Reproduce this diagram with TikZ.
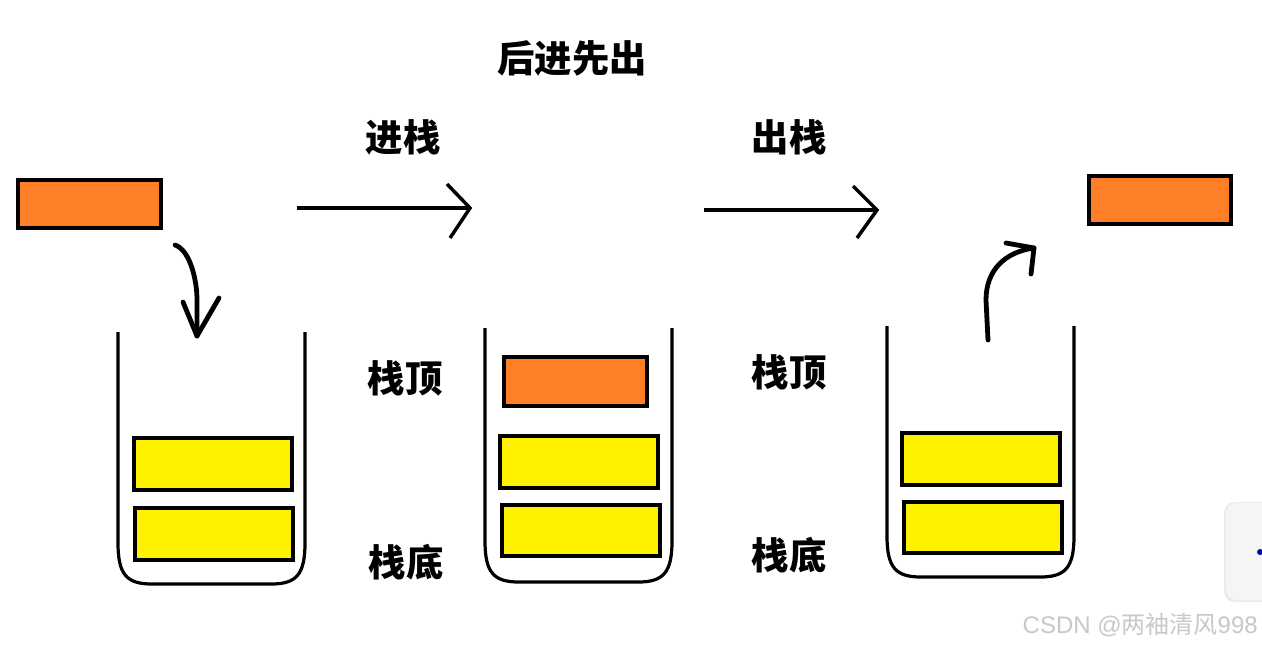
\documentclass[tikz,border=0pt]{standalone}
\usepackage{fontspec}
\newfontfamily\cjk{Noto Sans CJK SC}
\newfontfamily\wm{Liberation Sans}
\definecolor{stackorange}{HTML}{FF7F27}
\definecolor{stackyellow}{HTML}{FFF200}
\definecolor{wmgray}{HTML}{C8C8C8}
\begin{document}
\begin{tikzpicture}[x=0.75pt,y=-0.75pt,
  box/.style={draw=black,line width=2.5pt},
  obox/.style={box,fill=stackorange},
  ybox/.style={box,fill=stackyellow},
  cup/.style={draw=black,line width=2.4pt},
  hand/.style={draw=black,line width=3.6pt,line cap=round,line join=round},
  straight/.style={draw=black,line width=2.6pt},
  lbl/.style={font=\cjk\bfseries\fontsize{28}{30}\selectfont,inner sep=0pt},
  wmark/.style={font=\fontsize{18}{20}\selectfont,text=wmgray,inner sep=0pt}]
\useasboundingbox (0,0) rectangle (1262,646);
\fill[white] (0,0) rectangle (1262,646);

% labels
\node[lbl] (title) at (572,58) {后进先出};
\node[lbl] (in) at (403,137) {进栈};
\node[lbl] (out) at (789,137) {出栈};
\node[lbl] (top1) at (405,378) {栈顶};
\node[lbl] (bot1) at (406,562) {栈底};
\node[lbl] (top2) at (789,372) {栈顶};
\node[lbl] (bot2) at (789,555) {栈底};

% orange blocks outside
\draw[obox] (18,180) rectangle (161,228);
\draw[obox] (1089,176) rectangle (1231,224);

% cup 1
\draw[cup] (118,332) -- (118,543) .. controls (118,575) and (127,584) .. (152,584) -- (271,584) .. controls (296,584) and (305,575) .. (305,543) -- (305,332);
\draw[ybox] (134,438) rectangle (292,490);
\draw[ybox] (135,508) rectangle (293,560);

% cup 2
\draw[cup] (485,328) -- (485,541) .. controls (485,573) and (494,582) .. (519,582) -- (638,582) .. controls (663,582) and (672,573) .. (672,541) -- (672,328);
\draw[obox] (504,357) rectangle (647,406);
\draw[ybox] (500,436) rectangle (658,488);
\draw[ybox] (502,505) rectangle (660,556);

% cup 3
\draw[cup] (887,326) -- (887,536) .. controls (887,568) and (896,577) .. (921,577) -- (1040,577) .. controls (1065,577) and (1074,568) .. (1074,536) -- (1074,326);
\draw[ybox] (902,433) rectangle (1060,485);
\draw[ybox] (904,502) rectangle (1062,553);

% hand arrow down (push)
\coordinate (d0) at (175,245);
\coordinate (d1) at (197,336);
\draw[hand] (d0) .. controls (190,250) and (197,280) .. (197,300) -- (d1);
\draw[hand] (183,302) -- (d1) -- (219,298);

% hand arrow up (pop)
\coordinate (u0) at (988,340);
\coordinate (u1) at (1034,248);
\draw[hand] (u0) -- (986,300) .. controls (986,270) and (1005,252) .. (u1);
\draw[hand] (1006,243) -- (u1) -- (1031,274);

% straight arrows
\coordinate (a0) at (297,208);
\coordinate (a1) at (470,208);
\draw[straight] (a0) -- (a1);
\draw[straight,line join=miter] (447,184) -- (a1) -- (450,238);
\coordinate (b0) at (704,210);
\coordinate (b1) at (877,210);
\draw[straight] (b0) -- (b1);
\draw[straight,line join=miter] (853,186) -- (b1) -- (857,238);

% side card
\fill[black!8,rounded corners=8pt] (1224,502) rectangle (1275,602);
\fill[white!96!black,rounded corners=8pt] (1226,503) rectangle (1275,600);
\fill[blue!70!black] (1260,552) circle (3);

% watermark
\node[wmark,anchor=east] (wm) at (1258,625) {\wm CSDN @\cjk 两袖清风\wm 998};
\end{tikzpicture}
\end{document}
